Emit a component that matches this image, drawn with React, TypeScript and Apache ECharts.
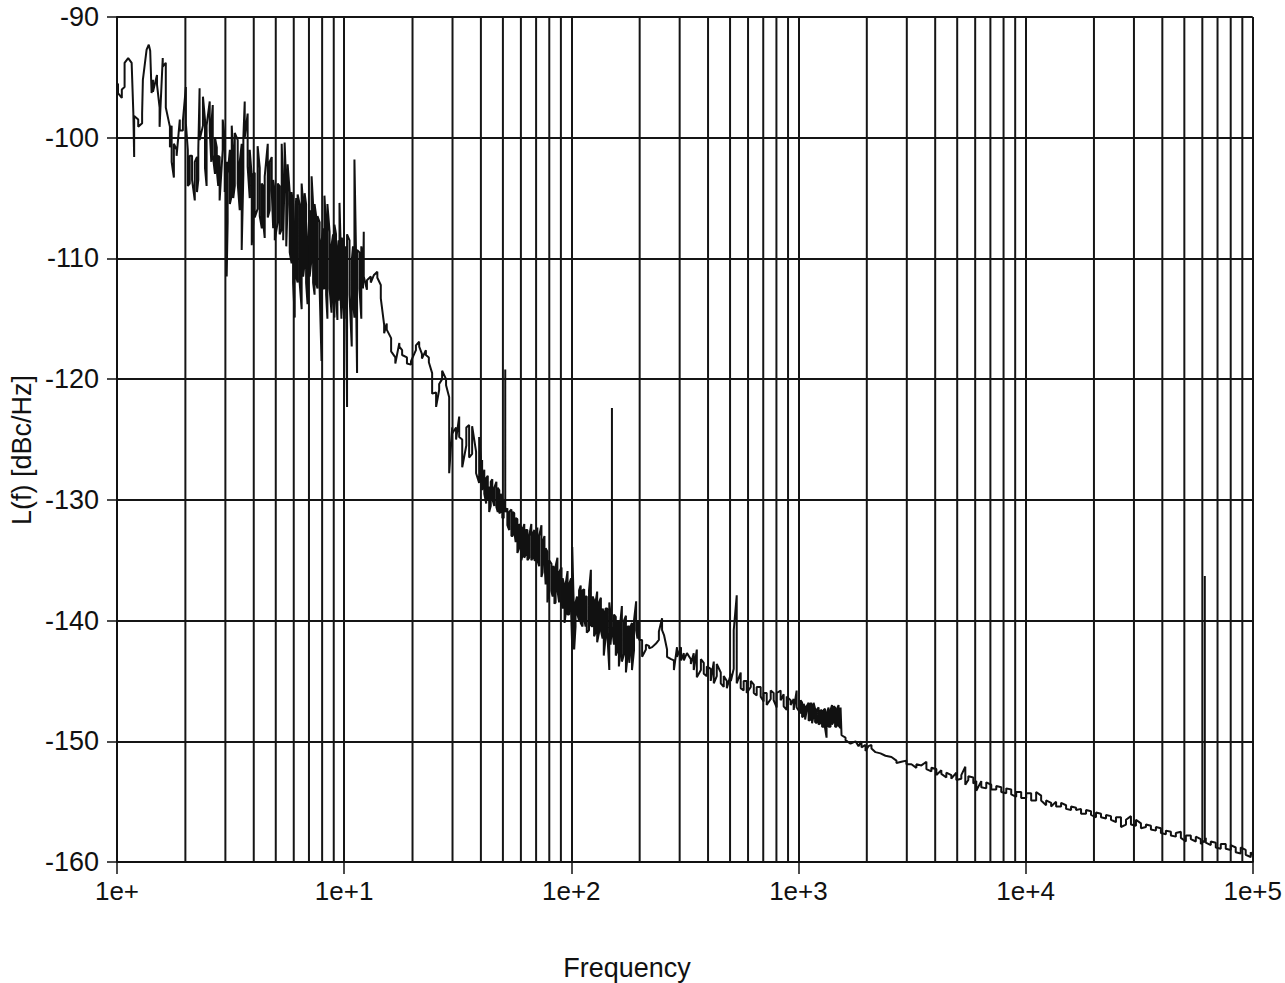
import React, { useEffect, useRef } from 'react';
import * as echarts from 'echarts';

// ---- axes ----
const xTickLabels = ['1e+', '1e+1', '1e+2', '1e+3', '1e+4', '1e+5'];
const X_MIN = 1;
const X_MAX = 100000;
const Y_MIN = -160;
const Y_MAX = -90;
const Y_STEP = 10;
const xTitle = 'Frequency';
const yTitle = 'L(f) [dBc/Hz]';

// minor (2..9 per decade) vertical grid positions, Hz
const minorGridFreqs = [
  2, 3, 4, 5, 6, 7, 8, 9,
  20, 30, 40, 50, 60, 70, 80, 90,
  200, 300, 400, 500, 600, 700, 800, 900,
  2000, 3000, 4000, 5000, 6000, 7000, 8000, 9000,
  20000, 30000, 40000, 50000, 60000, 70000, 80000, 90000,
];

// ---- measured phase-noise trace [Hz, dBc/Hz] ----
const trace1to10: [number, number][] = [
  [1.0, -95.9], [1.01, -95.5], [1.01, -96.3], [1.05, -96.7], [1.05, -96.0], [1.08, -95.8], [1.08, -93.8], [1.12, -93.4],
  [1.16, -93.8], [1.18, -97.9], [1.19, -101.6], [1.19, -98.2], [1.24, -98.5], [1.24, -99.1], [1.29, -98.8], [1.29, -98.0],
  [1.3, -95.2], [1.35, -92.7], [1.38, -92.3], [1.4, -92.8], [1.42, -96.3], [1.44, -95.2], [1.44, -96.2], [1.5, -94.8],
  [1.5, -95.6], [1.54, -97.5], [1.54, -99.1], [1.59, -93.4], [1.59, -94.1], [1.64, -93.8], [1.64, -97.5], [1.71, -99.1],
  [1.71, -100.8], [1.74, -99.0], [1.74, -102.0], [1.78, -103.3], [1.78, -100.5], [1.83, -101.0], [1.83, -101.5], [1.89, -98.5],
  [1.89, -99.4], [1.95, -99.4], [1.95, -98.6], [2.01, -95.8], [2.01, -98.8], [2.05, -101.0], [2.05, -104.0], [2.09, -103.8],
  [2.09, -101.5], [2.14, -101.5], [2.14, -103.5], [2.2, -105.2], [2.2, -102.0], [2.25, -101.6], [2.25, -104.5], [2.28, -103.5],
  [2.28, -101.0], [2.31, -95.9], [2.31, -100.2], [2.39, -99.0], [2.39, -96.6], [2.44, -98.5], [2.44, -102.5], [2.48, -104.0],
  [2.48, -99.0], [2.56, -97.0], [2.56, -99.4], [2.6, -102.0], [2.6, -99.0], [2.64, -97.3], [2.64, -101.4], [2.7, -103.0],
  [2.7, -100.0], [2.75, -100.8], [2.75, -102.7], [2.79, -104.0], [2.79, -101.5], [2.83, -101.6], [2.83, -105.2], [2.92, -101.0],
  [2.92, -98.5], [2.98, -100.0], [2.98, -104.5], [3.04, -102.0], [3.04, -111.5], [3.07, -107.0], [3.07, -103.0], [3.14, -101.0],
  [3.14, -105.5], [3.2, -104.8], [3.2, -99.0], [3.25, -101.5], [3.25, -105.0], [3.3, -104.0], [3.3, -99.6], [3.4, -100.2],
  [3.4, -103.8], [3.47, -106.0], [3.47, -102.0], [3.54, -100.5], [3.54, -109.3], [3.6, -103.0], [3.6, -100.0], [3.65, -97.0],
  [3.65, -100.0], [3.76, -98.0], [3.76, -102.4], [3.84, -105.0], [3.84, -101.0], [3.92, -103.2], [3.92, -108.9], [3.98, -107.0],
  [3.98, -103.0], [4.04, -102.9], [4.04, -106.6], [4.16, -105.9], [4.16, -100.7], [4.25, -102.5], [4.25, -106.5], [4.34, -107.5],
  [4.34, -103.8], [4.4, -104.0], [4.4, -107.0], [4.47, -108.3], [4.47, -103.2], [4.61, -100.5], [4.61, -106.6], [4.7, -106.0],
  [4.7, -102.0], [4.8, -101.6], [4.8, -104.4], [4.87, -107.5], [4.87, -103.5], [4.95, -104.5], [4.95, -108.5], [5.1, -107.0],
  [5.1, -103.8], [5.2, -104.0], [5.2, -108.0], [5.31, -107.6], [5.31, -100.5], [5.39, -104.5], [5.39, -108.5], [5.47, -103.0],
  [5.47, -100.4], [5.56, -104.0], [5.56, -109.0], [5.64, -105.5], [5.64, -102.2], [5.76, -104.5], [5.76, -109.5], [5.87, -110.4],
  [5.87, -104.5], [5.96, -105.5], [5.96, -112.0], [6.06, -114.9], [6.06, -107.6], [6.15, -105.0], [6.15, -111.5], [6.24, -112.0],
  [6.24, -104.7], [6.37, -105.5], [6.37, -112.0], [6.5, -114.2], [6.5, -103.8], [6.6, -105.5], [6.6, -111.5], [6.7, -110.4],
  [6.7, -104.6], [6.8, -105.5], [6.8, -112.0], [6.9, -113.8], [6.9, -109.0], [7.05, -106.0], [7.05, -111.5], [7.19, -110.0],
  [7.19, -103.2], [7.3, -105.5], [7.3, -112.0], [7.41, -113.0], [7.41, -105.5], [7.53, -106.5], [7.53, -112.0], [7.63, -112.5],
  [7.63, -106.5], [7.8, -107.0], [7.8, -112.5], [7.95, -118.5], [7.95, -108.6], [8.08, -107.5], [8.08, -112.5], [8.19, -112.5],
  [8.19, -104.8], [8.33, -107.5], [8.33, -113.0], [8.44, -115.0], [8.44, -105.5], [8.63, -107.8], [8.63, -112.5], [8.8, -114.5],
  [8.8, -108.9], [8.94, -108.0], [8.94, -113.0], [9.06, -114.9], [9.06, -107.2], [9.21, -108.0], [9.21, -113.0], [9.34, -115.1],
  [9.34, -109.5], [9.45, -108.5], [9.45, -113.5], [9.54, -112.0], [9.54, -105.4], [9.64, -108.5], [9.64, -113.0], [9.73, -115.0],
  [9.73, -108.3], [9.89, -108.5], [9.89, -113.5],
];

const trace10to100: [number, number][] = [
  [10.0, -115.0], [10.0, -109.9], [10.2, -109.0], [10.2, -113.5], [10.3, -122.3], [10.3, -108.0], [10.56, -108.5], [10.56, -113.0],
  [10.8, -117.3], [10.8, -110.2], [10.94, -109.0], [10.94, -113.5], [11.1, -114.9], [11.1, -101.8], [11.28, -109.5], [11.28, -113.0],
  [11.4, -119.5], [11.4, -109.3], [11.68, -109.5], [11.68, -112.5], [11.9, -115.0], [11.9, -109.0], [12.11, -110.0], [12.11, -112.5],
  [12.2, -107.8], [12.2, -111.5], [12.6, -112.6], [12.6, -111.8], [13.1, -111.5], [13.1, -112.0], [13.5, -111.4], [14.0, -111.1],
  [14.0, -111.6], [14.5, -112.2], [14.5, -113.3], [15.0, -115.5], [15.0, -116.2], [15.4, -115.4], [15.4, -115.9], [16.1, -116.6],
  [16.1, -117.7], [16.8, -118.2], [16.8, -118.7], [17.5, -117.0], [17.5, -117.3], [18.0, -117.6], [18.0, -118.0], [18.9, -118.2],
  [18.9, -118.7], [19.7, -118.8], [19.7, -118.5], [20.7, -117.6], [20.7, -117.2], [21.4, -116.9], [21.4, -117.3], [22.0, -117.9],
  [22.0, -118.3], [22.9, -117.6], [22.9, -118.0], [23.6, -118.2], [23.6, -118.6], [24.4, -119.5], [24.4, -121.2], [25.4, -121.1],
  [25.4, -122.3], [26.2, -120.9], [26.2, -120.4], [27.0, -120.0], [27.0, -119.3], [28.1, -120.0], [28.1, -120.5], [29.0, -121.5],
  [29.0, -127.8], [29.9, -124.0], [29.9, -124.5], [31.1, -124.0], [31.1, -125.0], [32.1, -123.1], [32.1, -124.8], [33.1, -125.0],
  [33.1, -127.3], [34.5, -125.5], [34.5, -124.0], [35.5, -123.8], [35.5, -126.5], [36.6, -126.2], [36.6, -123.9], [38.1, -126.0],
  [38.1, -127.8], [39.3, -128.6], [39.3, -124.8], [39.95, -126.5], [39.95, -128.5], [40.5, -126.7], [40.5, -129.2], [41.4, -127.5],
  [41.4, -129.5], [42.2, -130.3], [42.2, -128.2], [42.9, -128.0], [42.9, -130.0], [43.5, -128.9], [43.5, -131.0], [44.2, -130.5],
  [44.2, -128.5], [44.9, -128.3], [44.9, -129.9], [45.8, -130.5], [45.8, -129.0], [46.8, -128.5], [46.8, -130.6], [47.45, -131.0],
  [47.45, -129.0], [48.2, -129.2], [48.2, -131.1], [48.9, -131.0], [48.9, -129.5], [49.7, -129.9], [49.7, -131.5], [50.4, -131.5],
  [50.4, -130.0], [51.2, -131.0], [51.2, -119.2], [51.2, -131.0], [52.3, -130.7], [52.3, -132.1], [53.3, -132.5], [53.3, -131.0],
  [54.5, -130.8], [54.5, -133.0], [55.2, -133.0], [55.2, -131.0], [56.1, -131.1], [56.1, -132.6], [56.9, -133.5], [56.9, -131.5],
  [57.9, -131.6], [57.9, -134.4], [59.0, -134.0], [59.0, -132.0], [60.3, -132.3], [60.3, -135.0], [61.1, -134.5], [61.1, -132.5],
  [62.1, -132.0], [62.1, -134.8], [63.0, -134.5], [63.0, -132.5], [64.1, -132.5], [64.1, -135.0], [65.25, -134.8], [65.25, -133.0],
  [66.7, -132.0], [66.7, -135.0], [67.6, -134.8], [67.6, -132.8], [68.8, -132.5], [68.8, -135.0], [69.7, -135.0], [69.7, -133.0],
  [70.9, -132.3], [70.9, -135.0], [72.2, -135.5], [72.2, -133.0], [73.9, -132.1], [73.9, -136.4], [74.8, -136.0], [74.8, -133.5],
  [76.2, -133.0], [76.2, -135.1], [77.1, -137.0], [77.1, -134.0], [78.5, -134.3], [78.5, -138.5], [79.9, -137.5], [79.9, -135.0],
  [81.8, -135.3], [81.8, -137.6], [82.8, -138.0], [82.8, -135.5], [84.3, -135.6], [84.3, -138.6], [85.3, -138.5], [85.3, -135.5],
  [86.9, -134.8], [86.9, -137.5], [88.4, -138.5], [88.4, -136.0], [90.6, -135.6], [90.6, -138.6], [91.6, -139.0], [91.6, -136.5],
  [93.4, -137.2], [93.4, -140.2], [94.4, -139.5], [94.4, -137.0], [96.3, -135.9], [96.3, -139.5], [97.8, -139.5], [97.8, -137.0],
];

const trace100to1k: [number, number][] = [
  [99.8, -136.5], [99.8, -139.2], [101, -142.4], [101, -133.9], [103, -140.2], [103, -142.4], [104.4, -140.5], [104.4, -138.5],
  [106, -138.0], [106, -139.4], [108.2, -140.0], [108.2, -137.5], [110, -137.1], [110, -140.2], [112.1, -140.5], [112.1, -137.5],
  [114, -137.4], [114, -139.9], [115.6, -140.5], [115.6, -138.0], [117, -138.0], [117, -141.0], [119.7, -140.8], [119.7, -137.5],
  [122, -135.8], [122, -140.4], [124.1, -140.5], [124.1, -138.0], [126, -138.3], [126, -141.3], [127.9, -141.0], [127.9, -138.5],
  [130, -137.6], [130, -141.8], [132.5, -141.0], [132.5, -138.5], [135, -138.1], [135, -140.8], [137.3, -141.5], [137.3, -139.0],
  [139, -139.3], [139, -142.9], [141.5, -141.5], [141.5, -139.0], [144, -139.0], [144, -141.0], [147, -144.1], [147, -138.5],
  [148.8, -139.5], [148.8, -142.0], [151, -140.5], [151, -122.4], [151, -140.5], [154.2, -142.0], [154.2, -139.5], [157, -139.7],
  [157, -142.9], [159.7, -142.5], [159.7, -140.0], [162, -140.2], [162, -143.8], [164.7, -142.5], [164.7, -140.0], [167, -138.8],
  [167, -143.4], [170.6, -142.8], [170.6, -140.0], [174, -139.6], [174, -144.3], [176.8, -143.0], [176.8, -140.5], [180, -140.5],
  [180, -143.5], [182.2, -142.5], [182.2, -140.5], [185, -140.2], [185, -144.1], [188.8, -142.5], [188.8, -140.0], [193, -138.4],
  [193, -140.8], [195.6, -141.5], [195.6, -140.0], [199, -140.2], [199, -141.6], [205, -141.6], [205, -143.0], [213, -142.4],
  [213, -142.0], [220, -142.1], [220, -142.3], [227, -142.2], [236, -141.9], [243, -141.6], [243, -140.9], [251, -139.8],
  [251, -140.8], [256, -141.2], [264, -142.4], [264, -143.0], [275, -143.2], [283, -143.3], [283, -144.1], [292, -142.2],
  [292, -143.0], [304, -142.2], [304, -143.3], [313, -142.7], [313, -143.3], [323, -142.7], [336, -143.2], [336, -143.6],
  [346, -142.7], [346, -144.1], [357, -142.4], [357, -144.7], [372, -144.1], [372, -143.2], [383, -143.5], [383, -144.4],
  [395, -144.6], [395, -143.8], [411, -144.0], [411, -145.0], [424, -143.4], [424, -145.2], [437, -144.6], [437, -143.6],
  [455, -144.3], [455, -145.2], [469, -145.5], [469, -144.6], [484, -145.0], [484, -145.6], [504, -144.4], [504, -145.0],
  [519, -144.0], [519, -140.8], [535, -137.9], [535, -145.2], [557, -144.3], [557, -145.6], [574, -145.8], [574, -145.0],
  [592, -145.0], [592, -146.0], [617, -145.5], [617, -145.0], [636, -145.3], [636, -146.0], [655, -146.2], [655, -145.5],
  [682, -145.5], [682, -146.3], [703, -146.7], [703, -146.0], [725, -146.0], [725, -147.0], [755, -146.5], [755, -145.8],
  [778, -146.0], [778, -146.6], [802, -147.2], [802, -146.0], [835, -145.8], [835, -146.6], [861, -146.1], [861, -147.1],
  [888, -147.4], [888, -146.3], [924, -146.6], [924, -147.0], [953, -146.5], [953, -147.4], [982, -145.8], [982, -147.2],
];

const trace1kto10k: [number, number][] = [
  [1022, -147.7], [1022, -146.6], [1038, -146.8], [1038, -148.0], [1054, -147.9], [1054, -146.9], [1070, -147.2], [1070, -148.2],
  [1087, -147.5], [1087, -147.1], [1109, -146.8], [1109, -148.3], [1131, -148.2], [1131, -146.8], [1148, -147.0], [1148, -148.5],
  [1166, -147.9], [1166, -146.8], [1184, -147.3], [1184, -148.4], [1202, -148.5], [1202, -147.4], [1227, -147.2], [1227, -148.6],
  [1252, -148.5], [1252, -147.4], [1271, -147.5], [1271, -148.8], [1291, -148.8], [1291, -147.4], [1310, -147.3], [1310, -148.9],
  [1330, -149.7], [1330, -147.7], [1357, -147.2], [1357, -148.8], [1385, -148.8], [1385, -147.4], [1406, -147.0], [1406, -148.6],
  [1428, -148.4], [1428, -147.1], [1450, -147.2], [1450, -148.8], [1472, -148.8], [1472, -147.4], [1502, -147.0], [1502, -148.7],
  [1533, -148.9], [1533, -147.2], [1548, -149.5], [1612, -149.7], [1612, -149.9], [1696, -150.2], [1784, -150.0], [1839, -150.4],
  [1895, -150.0], [1895, -150.5], [1974, -150.3], [1974, -150.8], [2034, -150.4], [2097, -150.3], [2097, -150.6], [2184, -150.9],
  [2297, -151.0], [2416, -151.2], [2567, -151.3], [2701, -151.6], [2701, -151.8], [2841, -151.7], [2988, -151.6], [2988, -151.9],
  [3143, -151.9], [3306, -152.2], [3306, -151.9], [3478, -152.0], [3659, -151.7], [3659, -152.3], [3848, -152.5], [3848, -152.2],
  [4048, -152.3], [4048, -152.8], [4258, -152.4], [4258, -152.7], [4479, -153.0], [4479, -152.6], [4711, -152.8], [4711, -153.1],
  [4956, -152.6], [4956, -153.2], [5213, -153.1], [5213, -152.8], [5428, -152.1], [5428, -153.6], [5596, -153.2], [5596, -152.9],
  [5887, -153.0], [5887, -153.5], [6068, -153.3], [6068, -154.1], [6382, -153.3], [6382, -153.8], [6714, -153.9], [6714, -153.4],
  [7062, -153.6], [7062, -154.0], [7429, -154.0], [7429, -153.7], [7814, -153.8], [7814, -154.2], [8220, -154.3], [8220, -153.9],
  [8646, -154.0], [8646, -154.4], [9094, -154.6], [9094, -154.2], [9565, -154.2], [9565, -154.7],
];

const trace10kto100k: [number, number][] = [
  [10061, -154.7], [10061, -154.3], [10583, -154.3], [10583, -154.9], [11132, -154.9], [11132, -154.2], [11709, -154.5], [11709, -154.9],
  [12317, -155.3], [12317, -154.9], [12956, -155.1], [12956, -155.4], [13628, -155.0], [13628, -155.4], [14334, -155.4], [14334, -155.1],
  [15078, -155.3], [15078, -155.6], [15860, -155.7], [15860, -155.4], [16682, -155.5], [16682, -155.7], [17548, -155.6], [17548, -156.0],
  [18458, -156.0], [18458, -155.7], [19415, -155.8], [19415, -156.1], [20422, -156.3], [20422, -155.9], [21481, -156.0], [21481, -156.3],
  [22595, -156.4], [22595, -156.1], [23767, -156.2], [23767, -156.5], [25000, -156.7], [25000, -156.3], [26300, -156.3], [26300, -157.1],
  [27670, -156.9], [27670, -156.5], [29100, -156.2], [29100, -156.9], [30620, -157.0], [30620, -156.5], [32200, -156.8], [32200, -157.2],
  [33880, -157.1], [33880, -156.9], [35630, -157.0], [35630, -157.3], [37480, -157.4], [37480, -157.1], [39430, -157.2], [39430, -157.6],
  [41470, -157.7], [41470, -157.4], [43620, -157.5], [43620, -157.8], [45880, -157.9], [45880, -157.6], [48270, -157.5], [48270, -158.0],
  [50770, -158.3], [50770, -157.8], [53400, -157.8], [53400, -158.1], [56170, -158.3], [56170, -157.9], [59090, -158.1], [59090, -158.5],
  [61520, -158.2], [61520, -136.3], [61520, -158.4], [62140, -158.0], [62140, -158.4], [65370, -158.6], [65370, -158.3], [68760, -158.4],
  [68760, -158.8], [72330, -158.9], [72330, -158.5], [76080, -158.5], [76080, -158.9], [80030, -159.0], [80030, -158.6], [84180, -158.8],
  [84180, -159.2], [88550, -159.3], [88550, -158.8], [93150, -159.0], [93150, -159.4], [97990, -159.6], [97990, -159.2], [100000, -159.4],
];

const FONT = "'Liberation Sans', Arial, sans-serif";
const INK = '#111111';
const GRID_INK = '#151515';

export default function App() {
  const ref = useRef<HTMLDivElement>(null);

  useEffect(() => {
    document.body.style.margin = '0';
    const chart = echarts.init(ref.current as HTMLDivElement, null, { renderer: 'svg' });
    const trace = [...trace1to10, ...trace10to100, ...trace100to1k, ...trace1kto10k, ...trace10kto100k];

    chart.setOption({
      animation: false,
      backgroundColor: '#ffffff',
      grid: { left: 117, right: 30, top: 17, bottom: 121, containLabel: false },
      xAxis: {
        type: 'log',
        logBase: 10,
        min: X_MIN,
        max: X_MAX,
        axisLine: { show: true, onZero: false, lineStyle: { color: INK, width: 2 } },
        axisTick: { show: true, length: 12, lineStyle: { color: INK, width: 1.5 } },
        splitLine: { show: true, lineStyle: { color: GRID_INK, width: 2 } },
        axisLabel: {
          show: true,
          showMinLabel: true,
          showMaxLabel: true,
          margin: 16,
          fontFamily: FONT,
          fontSize: 26,
          color: INK,
          formatter: (v: number) => xTickLabels[Math.round(Math.log10(v))] ?? '',
        },
      },
      yAxis: {
        type: 'value',
        min: Y_MIN,
        max: Y_MAX,
        interval: Y_STEP,
        axisLine: { show: true, lineStyle: { color: INK, width: 2 } },
        axisTick: { show: true, length: 10, lineStyle: { color: INK, width: 1.5 } },
        splitLine: { show: true, lineStyle: { color: GRID_INK, width: 2 } },
        axisLabel: {
          show: true,
          showMinLabel: true,
          showMaxLabel: true,
          margin: 18,
          fontFamily: FONT,
          fontSize: 27,
          color: INK,
        },
      },
      graphic: [
        {
          type: 'text',
          x: 627,
          y: 968,
          style: {
            text: xTitle,
            fontFamily: FONT,
            fontSize: 27,
            fill: INK,
            textAlign: 'center',
            textVerticalAlign: 'middle',
          },
        },
        {
          type: 'text',
          x: 22,
          y: 450,
          rotation: Math.PI / 2,
          style: {
            text: yTitle,
            fontFamily: FONT,
            fontSize: 27,
            fill: INK,
            textAlign: 'center',
            textVerticalAlign: 'middle',
          },
        },
      ],
      series: [
        {
          type: 'custom',
          silent: true,
          z: 1,
          clip: false,
          data: minorGridFreqs.map((f) => [f, Y_MIN]),
          encode: { x: 0, y: 1 },
          renderItem: (params: any, api: any) => {
            const f = api.value(0);
            const top = api.coord([f, Y_MAX]);
            const bot = api.coord([f, Y_MIN]);
            return {
              type: 'line',
              shape: { x1: top[0], y1: top[1], x2: bot[0], y2: bot[1] },
              style: { stroke: GRID_INK, lineWidth: 2 },
            };
          },
        },
        {
          type: 'line',
          z: 3,
          data: trace,
          showSymbol: false,
          symbol: 'none',
          silent: true,
          clip: true,
          lineStyle: { color: INK, width: 2 },
        },
      ],
    });

    return () => {
      chart.dispose();
    };
  }, []);

  return <div ref={ref} style={{ width: 1285, height: 983 }} />;
}
